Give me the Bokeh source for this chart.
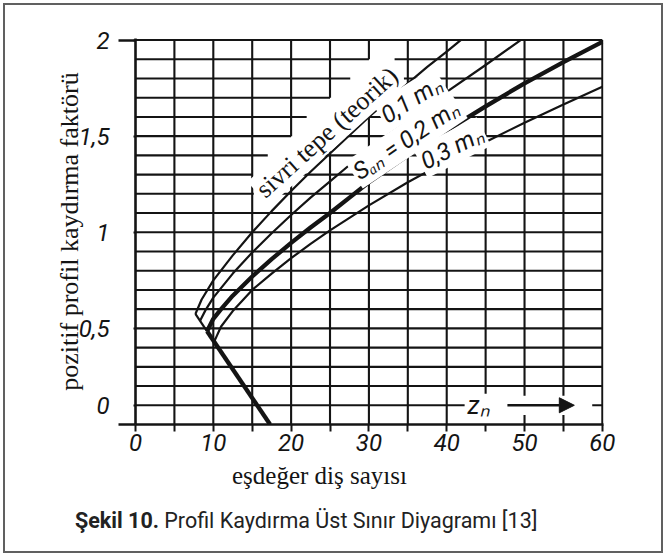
from bokeh.plotting import figure
from bokeh.layouts import column
from bokeh.models import Range1d, FixedTicker, Label, Arrow, NormalHead, InlineStyleSheet, Div
from bokeh.embed import file_html
from bokeh.resources import INLINE

# ---------------- data ----------------
# equivalent tooth count z_n  ->  profile shift factor x
tip_z = [7.7, 8.5, 10, 12.5, 15, 17.5, 20, 22.5, 25, 27.5, 30, 32.5, 35, 37.5, 40, 41.8]   # sivri tepe (teorik)
tip_x = [0.575, 0.65, 0.75, 0.88, 1.00, 1.11, 1.215, 1.315, 1.41, 1.505, 1.60, 1.69, 1.775, 1.86, 1.94, 2.0]
s01_z = [8.3, 9, 10, 12.5, 15, 17.5, 20, 22.5, 25, 27.5, 30, 35, 40, 45, 49.5]            # 0,1 m_n
s01_x = [0.54, 0.595, 0.66, 0.785, 0.895, 0.995, 1.09, 1.18, 1.265, 1.35, 1.43, 1.585, 1.73, 1.87, 2.0]
s02_z = [9.2, 10, 11, 12.5, 15, 17.5, 20, 22.5, 25, 27.5, 30, 35, 40, 45, 50, 55, 60]     # s_an = 0,2 m_n
s02_x = [0.485, 0.55, 0.60, 0.67, 0.77, 0.86, 0.945, 1.025, 1.10, 1.18, 1.26, 1.40, 1.53, 1.655, 1.775, 1.885, 1.99]
s03_z = [10.1, 11, 12.5, 15, 17.5, 20, 22.5, 25, 27.5, 30, 35, 40, 45, 50, 55, 60]        # 0,3 m_n
s03_x = [0.43, 0.51, 0.59, 0.70, 0.785, 0.865, 0.94, 1.01, 1.075, 1.14, 1.26, 1.37, 1.47, 1.57, 1.665, 1.757]
limit_z = [7.7, 9.2, 17.3]                                                                 # lower limit line
limit_x = [0.575, 0.485, 0.0]

x_ticks = [0, 10, 20, 30, 40, 50, 60]
x_minor = [5, 15, 25, 35, 45, 55]
y_ticks = [0.1, 0.5, 1.0, 1.5, 2.0]
y_tick_labels = ["0", "0,5", "1", "1,5", "2"]

# ---------------- styling / layout ----------------
INK = "#141414"

p = figure(width=666, height=500, x_range=Range1d(0, 60.15), y_range=Range1d(0, 2.008),
           output_backend="svg", toolbar_location=None,
           min_border_left=135, min_border_right=63, min_border_top=38, min_border_bottom=76)
p.grid.visible = False
p.outline_line_color = None
p.background_fill_color = "white"
p.border_fill_color = "white"

# grid (as in the scanned diagram, with a cleared band around the text)
full = [(0, 60)]
h_over = {
    19: [(0, 30), (33.3, 60)],
    18: [(0, 27.6), (34.5, 60)],
    17: [(0, 25), (30.5, 60)],
    16: [(0, 22), (27.8, 60)],
    15: [(0, 20), (25.0, 60)],
    14: [(0, 17), (22.0, 60)],
    13: [(0, 15), (19.2, 60)],
    12: [(0, 15.2), (17.8, 60)],
    1: [(0, 42.3), (58.7, 60)],
}
v_over = {
    20: [(0, 1.33), (1.5, 2)],
    25: [(0, 1.51), (1.7, 2)],
    30: [(0, 1.69), (1.9, 2)],
    45: [(0.16, 2)],
    50: [(0, 0.05), (0.15, 2)],
    55: [(0, 0.05), (0.15, 2)],
}
gx, gy = [], []
for i in range(1, 21):
    for a, b in h_over.get(i, full):
        gx.append([a, b]); gy.append([i / 10, i / 10])
for j in range(1, 13):
    for a, b in v_over.get(5 * j, [(0, 2)]):
        gx.append([5 * j, 5 * j]); gy.append([a, b])
p.multi_line(gx, gy, line_color=INK, line_width=2.1)

# curves
THIN, THICK = 2.2, 4.3
for zs, xs, w in [(tip_z, tip_x, THIN), (s01_z, s01_x, THIN), (s02_z, s02_x, THICK),
                  (s03_z, s03_x, THIN), (limit_z[:2], limit_x[:2], THIN),
                  (limit_z[1:], limit_x[1:], THICK)]:
    p.line(zs, xs, line_color=INK, line_width=w, line_join="round")

# axes
xa = p.xaxis[0]
xa.ticker = FixedTicker(ticks=x_ticks, minor_ticks=x_minor)
xa.axis_line_color = INK
xa.axis_line_width = 2.6
xa.major_tick_line_color = INK
xa.minor_tick_line_color = INK
xa.major_tick_line_width = 2
xa.minor_tick_line_width = 2
xa.major_tick_out = 7
xa.major_tick_in = 0
xa.minor_tick_out = 7
xa.minor_tick_in = 0
xa.major_label_standoff = 2
xa.major_label_text_font = "Roboto"
xa.major_label_text_font_style = "italic"
xa.major_label_text_font_size = "24px"
xa.major_label_text_color = INK
xa.axis_label = "eşdeğer diş sayısı" + "\u2003" * 4
xa.axis_label_text_font = "Liberation Serif"
xa.axis_label_text_font_style = "normal"
xa.axis_label_text_font_size = "25px"
xa.axis_label_text_color = INK
xa.axis_label_standoff = 8

ya = p.yaxis[0]
ya.ticker = FixedTicker(ticks=y_ticks, minor_ticks=[0, 2])
ya.major_label_overrides = dict(zip(y_ticks, y_tick_labels))
ya.axis_line_color = INK
ya.axis_line_width = 2.6
ya.major_tick_line_color = INK
ya.minor_tick_line_color = INK
ya.major_tick_line_width = 2
ya.minor_tick_line_width = 2.4
ya.major_tick_out = 2
ya.major_tick_in = 0
ya.minor_tick_out = 17
ya.minor_tick_in = 0
ya.major_label_standoff = 9
ya.major_label_text_font = "Roboto"
ya.major_label_text_font_style = "italic"
ya.major_label_text_font_size = "24px"
ya.major_label_text_color = INK
ya.axis_label = "pozitif profil kaydırma faktörü"
ya.axis_label_text_font = "Liberation Serif"
ya.axis_label_text_font_style = "normal"
ya.axis_label_text_font_size = "26px"
ya.axis_label_text_color = INK
ya.axis_label_standoff = -8

# texts inside the diagram
def lab(text, x, y, angle=0, font="Roboto", style="italic", size="24px", bg=False):
    kw = dict(background_fill_color="white", padding=2) if bg else {}
    p.add_layout(Label(x=x, y=y, text=text, angle=angle, angle_units="deg",
                       text_font=font, text_font_style=style, text_font_size=size,
                       text_color=INK, text_align="center", text_baseline="middle", **kw))

lab("sivri tepe (teorik)", 24.6, 1.52, 42, font="Liberation Serif", style="normal", size="26px", bg=True)
lab("0,1 mₙ", 35.5, 1.69, 32, bg=True)
lab("Sₐₙ = 0,2 mₙ", 34.8, 1.48, 34, bg=True)
lab("0,3 mₙ", 40.7, 1.44, 27, bg=True)
lab("zₙ", 44.1, 0.1, 0, size="25px")
p.add_layout(Arrow(end=NormalHead(size=15, fill_color=INK, line_color=INK, line_width=1),
                   x_start=47.8, y_start=0.1, x_end=56.4, y_end=0.1,
                   line_color=INK, line_width=2.5))

caption = Div(
    text='<div style="padding:6px 0 0 75px; font-family:Roboto; font-size:21.5px; '
         'color:#222; white-space:nowrap;"><b>Şekil 10.</b> Profil Kaydırma Üst Sınır Diyagramı [13]</div>',
    width=666, height=56, margin=(0, 0, 0, 0))

page = column(p, caption, spacing=0, margin=(0, 0, 0, 0))
page.stylesheets = [InlineStyleSheet(css=(
    ":host { position: relative; }"
    ":host::after { content: ''; position: absolute; left: 3px; top: 3px; right: 3px; bottom: 3px;"
    " border: 2px solid #606060; pointer-events: none; z-index: 100; }"))]

open("out.html", "w").write(file_html(page, INLINE))
